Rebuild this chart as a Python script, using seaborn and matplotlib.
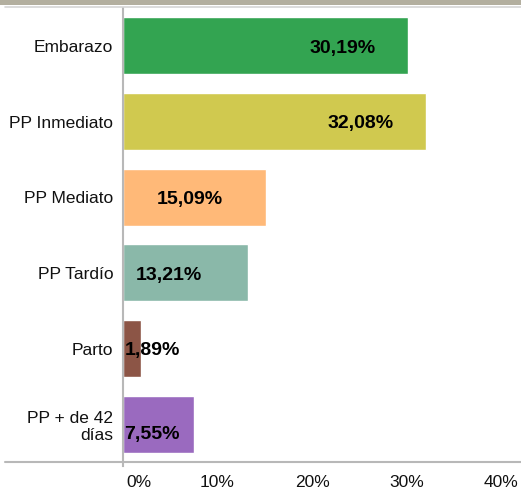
import matplotlib
matplotlib.use("Agg")
import matplotlib.pyplot as plt
from matplotlib.lines import Line2D
from matplotlib.patches import Rectangle
from matplotlib.transforms import offset_copy
import seaborn as sns
import pandas as pd

categorias = ["Embarazo", "PP Inmediato", "PP Mediato", "PP Tardío", "Parto", "PP + de 42\ndías"]
valores = [30.19, 32.08, 15.09, 13.21, 1.89, 7.55]
etiquetas = ["30,19%", "32,08%", "15,09%", "13,21%", "1,89%", "7,55%"]
colores = ["#33a451", "#d0c94f", "#ffb978", "#8ab8a9", "#8c5546", "#9a6abf"]
ticks = [0, 10, 20, 30, 40]
tick_labels = ["0%", "10%", "20%", "30%", "40%"]

df = pd.DataFrame({"cat": categorias, "val": valores})

sns.set_style("white")
plt.rcParams["font.family"] = ["Liberation Sans", "DejaVu Sans"]
plt.rcParams["text.color"] = "#111111"
plt.rcParams["xtick.color"] = "#111111"
plt.rcParams["ytick.color"] = "#111111"

fig = plt.figure(figsize=(5.21, 4.9), dpi=100)
ax = fig.add_axes([123 / 521, 1 - 462 / 490, (520 - 123) / 521, (462 - 8) / 490])

sns.barplot(data=df, y="cat", x="val", hue="cat", palette=colores,
            orient="h", width=0.75, saturation=1, legend=False, ax=ax)

ax.set_xlim(0, 42)
ax.set_ylim(5.5, -0.5)
ax.set_xticks(ticks)
ax.set_xticklabels(tick_labels, fontsize=12.5)
ax.tick_params(axis="x", length=4.5, color="#b0b0b0", pad=5, direction="out")
ax.tick_params(axis="y", length=0, pad=7, labelsize=12.5)
ax.set_xlabel("")
ax.set_ylabel("")
# the 0% label sits a bit to the right of its tick in the original
lbl0 = ax.get_xticklabels()[0]
lbl0.set_transform(offset_copy(lbl0.get_transform(), fig=fig, x=16, y=0, units="dots"))
for s in ["top", "right", "bottom"]:
    ax.spines[s].set_visible(False)
ax.spines["left"].set_color("#b8b8b8")
ax.spines["left"].set_linewidth(1.5)
ax.spines["left"].set_bounds(5.55, -0.5)

# value labels: inside the end for longer bars, near the base for short ones
for i, (v, lab) in enumerate(zip(valores, etiquetas)):
    if v > 25:
        x, ha = v - 3.5, "right"
    elif v > 14:
        x, ha = v - 4.5, "right"
    elif v > 10:
        x, ha = 1.4, "left"
    else:
        x, ha = 0.15, "left"
    # two-line category: value sits on the second line
    y = i + 0.14 if "\n" in categorias[i] else i + 0.03
    ax.text(x, y, lab, ha=ha, va="center", fontsize=14,
            fontweight="bold", color="black")

# frame lines of the original chart
fig.add_artist(Rectangle((0, 1 - 5 / 490), 1, 5 / 490, transform=fig.transFigure,
                         color="#b3af9f", lw=0))
fig.add_artist(Line2D([5 / 521, 1], [1 - 7.5 / 490] * 2, transform=fig.transFigure,
                      color="#d6d6d6", lw=1.2))
fig.add_artist(Line2D([5 / 521, 1], [1 - 462 / 490] * 2, transform=fig.transFigure,
                      color="#b8b8b8", lw=1.5))

fig.savefig("out.png", dpi=100)
